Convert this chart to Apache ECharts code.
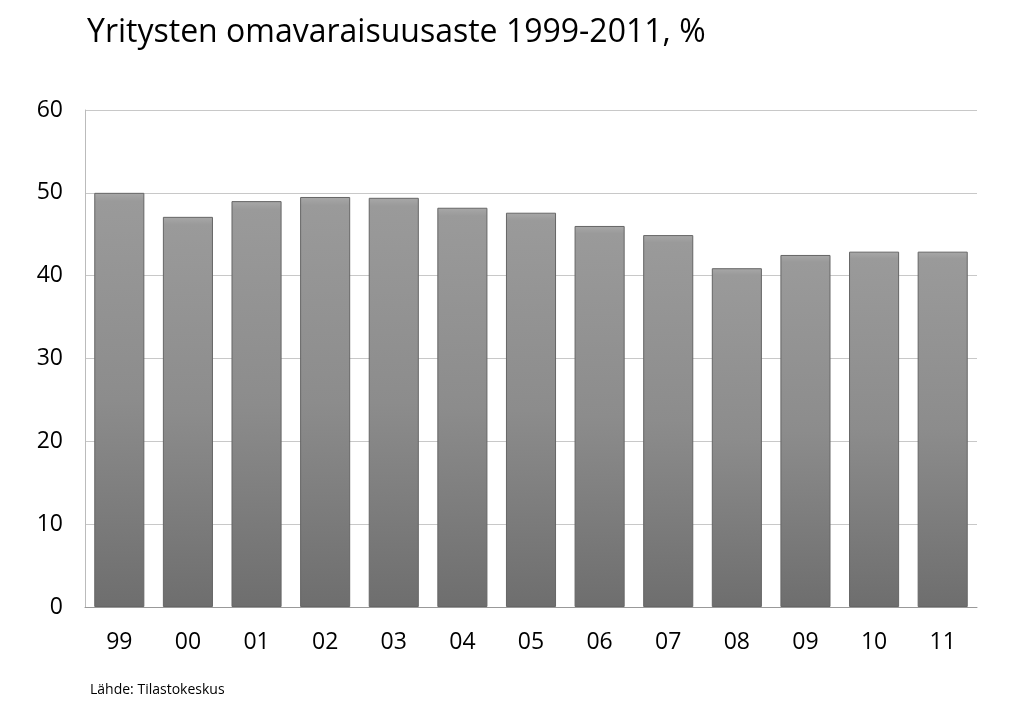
<!DOCTYPE html>
<html><head><meta charset="utf-8">
<script src="https://cdn.jsdelivr.net/npm/echarts@6/dist/echarts.min.js"></script>
<style>html,body{margin:0;padding:0;background:#fff}#c{width:1024px;height:713px}</style>
</head><body><div id="c"></div>
<script>
const categories = ['99','00','01','02','03','04','05','06','07','08','09','10','11'];
const values = [50.0, 47.1, 49.0, 49.5, 49.4, 48.2, 47.6, 46.0, 44.9, 40.9, 42.5, 42.9, 42.9];
const yTicks = [0, 60, 10];
const chart = echarts.init(document.getElementById('c'));
chart.setOption({
  animation: false,
  title: [
    {text: 'Yritysten omavaraisuusaste 1999-2011, %', left: 82, top: 12,
     textStyle: {fontFamily: 'Open Sans', fontSize: 32, fontWeight: 'normal', color: '#000'}},
    {text: 'Lähde: Tilastokeskus', left: 85, top: 678,
     textStyle: {fontFamily: 'Open Sans', fontSize: 14, fontWeight: 'normal', color: '#000'}}
  ],
  grid: {left: 85, right: 47, top: 110, bottom: 106},
  xAxis: {type: 'category', data: categories,
    axisLine: {lineStyle: {color: '#999'}}, axisTick: {show: false},
    axisLabel: {fontFamily: 'Open Sans', fontSize: 23, color: '#000', margin: 24}},
  yAxis: {type: 'value', min: yTicks[0], max: yTicks[1], interval: yTicks[2],
    axisLine: {show: true, lineStyle: {color: '#bbb'}},
    splitLine: {lineStyle: {color: '#c8c8c8'}},
    axisLabel: {fontFamily: 'Open Sans', fontSize: 23, color: '#000', margin: 22}},
  series: [{type: 'bar', data: values, barCategoryGap: '27%',
    itemStyle: {
      borderColor: '#666', borderWidth: 1,
      color: new echarts.graphic.LinearGradient(0, 0, 0, 1, [
        {offset: 0, color: '#a8a8a8'}, {offset: 0.02, color: '#9a9a9a'},
        {offset: 0.5, color: '#8c8c8c'}, {offset: 1, color: '#6e6e6e'}])
    }}]
});
</script></body></html>
